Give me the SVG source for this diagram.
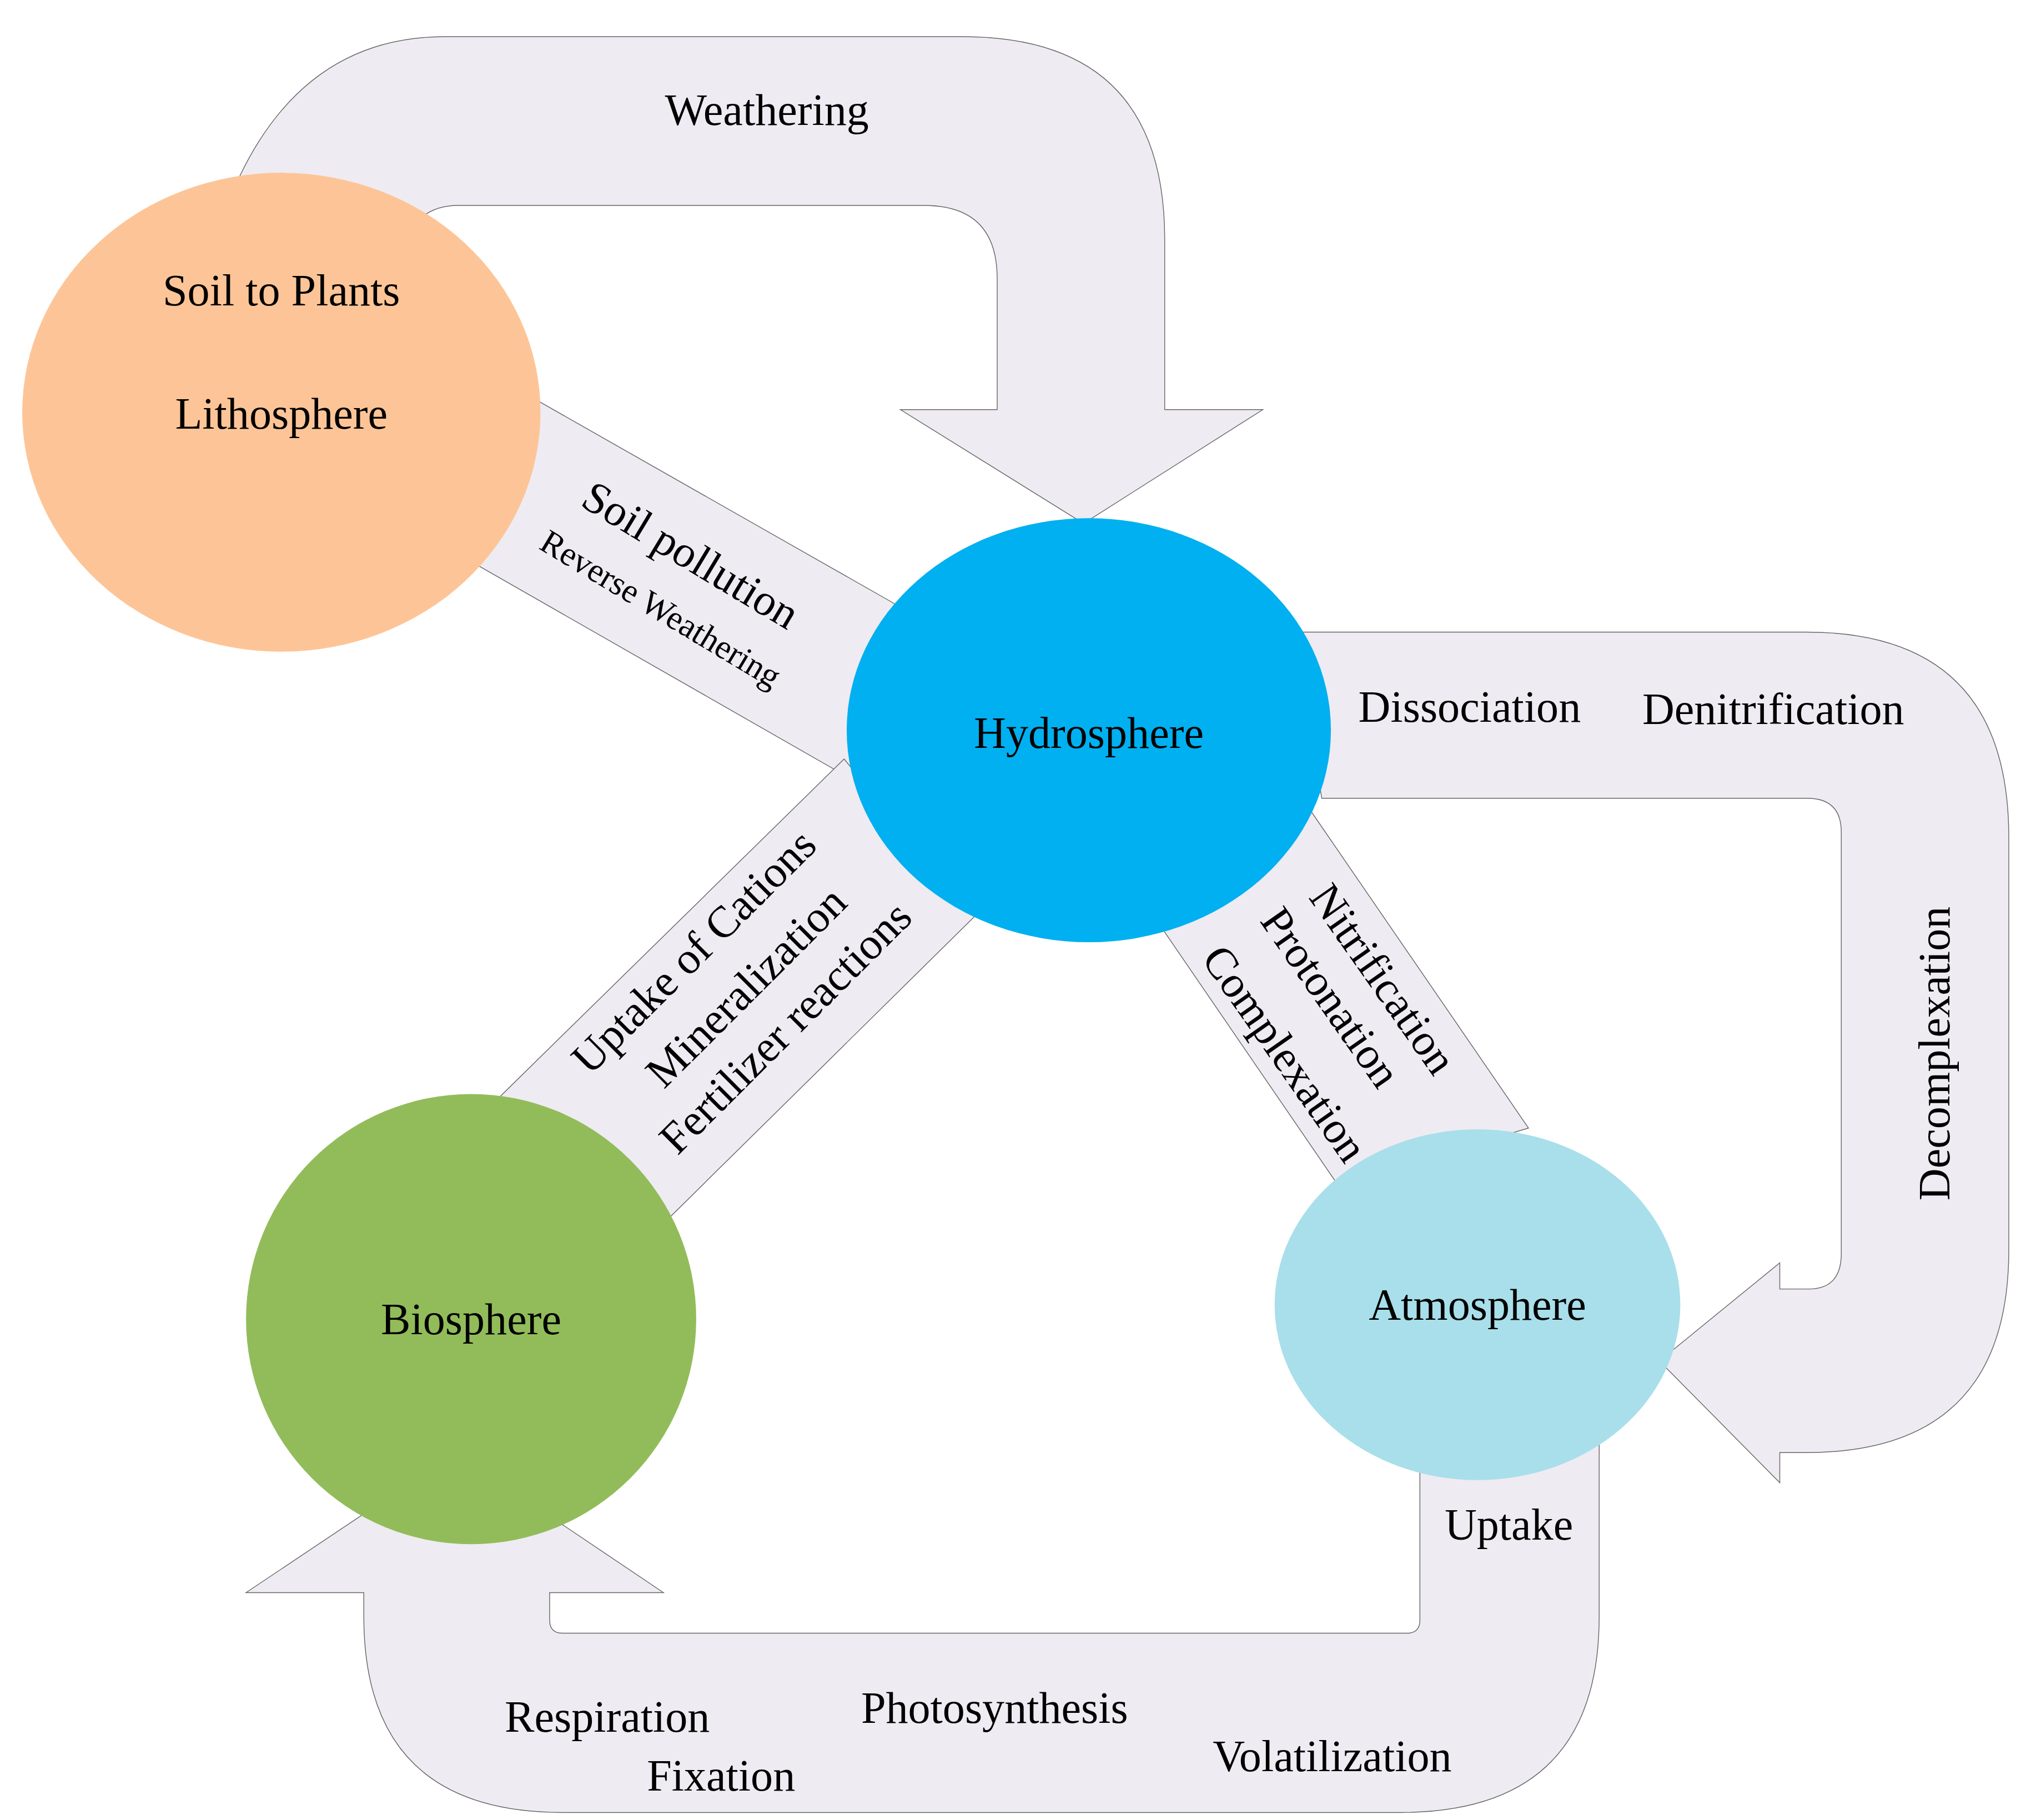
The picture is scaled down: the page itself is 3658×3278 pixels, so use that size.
<svg xmlns="http://www.w3.org/2000/svg" width="3658" height="3278" viewBox="0 0 3658 3278">
<style>
.band{fill:#efebf2;stroke:#666;stroke-width:0.6}
text{font-family:"Liberation Serif",serif;font-size:34px;fill:#000;text-anchor:middle;dominant-baseline:central}
.s{font-size:26px}
</style>
<rect width="3658" height="3278" fill="#fff"/>
<g transform="scale(2.357)">
<g id="connectors">
<path class="band" d="M183,135 C215,68 265,28 340,28 L735,28 Q890,28 890,183 L890,313 L965,313 L828,400 L688,313 L762,313 L762,213 Q762,157 706,157 L350,157 Q330,157 318,170 Z"/>
<path class="band" d="M990,483 L1380,483 Q1535,483 1535,640 L1535,955 Q1535,1110 1380,1110 L1360,1110 L1360,1133 L1268,1040 L1360,965 L1360,985 L1382,985 Q1407,985 1407,958 L1407,636 Q1407,610 1381,610 L1010,610 Z"/>
<path class="band" d="M1222,1100 L1222,1235 Q1222,1385 1070,1385 L430,1385 Q278,1385 278,1235 L278,1217 L188,1217 L348,1110 L507,1217 L420,1217 L420,1238 Q420,1248 430,1248 L1075,1248 Q1085,1248 1085,1238 L1085,1110 Z"/>
<polygon class="band" points="400,300 690,465 650,595 365,432"/>
<polygon class="band" points="645,580 745,700 512,930 380,840"/>
<polygon class="band" points="995,610 1168,862 1022,905 885,705"/>
</g>
<g id="lithosphere"><ellipse cx="215" cy="315" rx="198" ry="183" fill="#fdc597"/><text x="215" y="222">Soil to Plants</text><text x="215" y="316">Lithosphere</text></g>
<g id="hydrosphere"><ellipse cx="832" cy="558" rx="185" ry="162" fill="#00b0f0"/><text x="832" y="560">Hydrosphere</text></g>
<g id="biosphere"><ellipse cx="360" cy="1008" rx="172" ry="172" fill="#92bc5a"/><text x="360" y="1008">Biosphere</text></g>
<g id="atmosphere"><ellipse cx="1129" cy="997" rx="155" ry="134" fill="#a8dfea"/><text x="1129" y="997">Atmosphere</text></g>
<g id="labels">
<text x="586" y="84">Weathering</text>
<text transform="translate(528,424) rotate(31)">Soil pollution</text>
<text class="s" transform="translate(505,465) rotate(31)">Reverse Weathering</text>
<text transform="translate(530,727) rotate(-45)">Uptake of Cations</text>
<text transform="translate(570,754) rotate(-45)">Mineralization</text>
<text transform="translate(600,785) rotate(-45)">Fertilizer reactions</text>
<text transform="translate(1057,748) rotate(55)">Nitrification</text>
<text transform="translate(1017,762) rotate(55)">Protonation</text>
<text transform="translate(982,805) rotate(55)">Complexation</text>
<text transform="translate(1478,805) rotate(-90)">Decomplexation</text>
<text x="1123" y="540">Dissociation</text>
<text x="1355" y="542">Denitrification</text>
<text x="1153" y="1165">Uptake</text>
<text x="464" y="1312">Respiration</text>
<text x="551" y="1357">Fixation</text>
<text x="760" y="1305">Photosynthesis</text>
<text x="1018" y="1342">Volatilization</text>
</g>
</g>
</svg>
